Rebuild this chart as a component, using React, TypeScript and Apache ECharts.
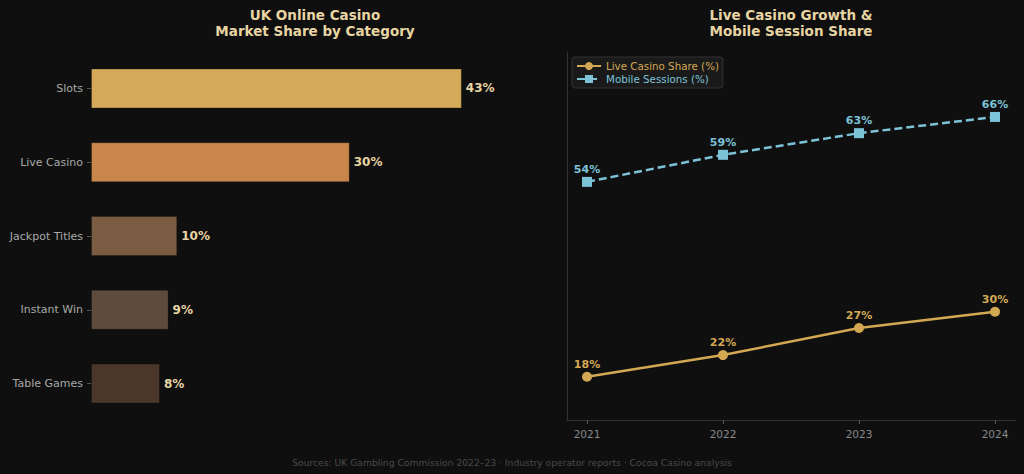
import React, { useEffect, useRef } from "react";
import * as echarts from "echarts";

const categories = ["Slots", "Live Casino", "Jackpot Titles", "Instant Win", "Table Games"];
const shares = [43, 30, 10, 9, 8];
const barColors = ["#d4aa58", "#c8864c", "#7a5c42", "#5e4b3b", "#4a3729"];
const years = [2021, 2022, 2023, 2024];
const liveCasino = [18, 22, 27, 30];
const mobileSessions = [54, 59, 63, 66];

const GOLD = "#d4a853";
const BLUE = "#7cc3d8";
const TITLE = "#e8d5a3";
const FONT = "DejaVu Sans";

export default function App() {
  const ref = useRef<HTMLDivElement>(null);
  useEffect(() => {
    if (!ref.current) return;
    const chart = echarts.init(ref.current, null, { renderer: "svg" });
    chart.setOption({
      animation: false,
      backgroundColor: "#0f0f0f",
      textStyle: { fontFamily: FONT },
      title: [
        {
          text: "UK Online Casino\nMarket Share by Category",
          left: 310,
          top: 2,
          textAlign: "center",
          textStyle: { color: TITLE, fontSize: 13.5, fontWeight: "bold", lineHeight: 16, fontFamily: FONT },
        },
        {
          text: "Live Casino Growth &\nMobile Session Share",
          left: 786,
          top: 2,
          textAlign: "center",
          textStyle: { color: TITLE, fontSize: 13.5, fontWeight: "bold", lineHeight: 16, fontFamily: FONT },
        },
        {
          text: "Sources: UK Gambling Commission 2022–23 · Industry operator reports · Cocoa Casino analysis",
          left: 507,
          top: 453,
          textAlign: "center",
          textStyle: { color: "#4a4a4a", fontSize: 9.2, fontWeight: "normal", fontFamily: FONT },
        },
      ],
      legend: {
        left: 572,
        top: 57,
        orient: "vertical",
        itemGap: 3,
        itemWidth: 24,
        itemHeight: 10,
        padding: [4, 4, 4, 4],
        backgroundColor: "#1a1a1a",
        borderColor: "#333333",
        borderWidth: 1,
        borderRadius: 3,
        textStyle: { fontSize: 10.3, fontFamily: FONT },
        data: [
          { name: "Live Casino Share (%)", textStyle: { color: GOLD } },
          { name: "Mobile Sessions (%)", textStyle: { color: BLUE } },
        ],
      },
      grid: [
        { left: 91, width: 445, top: 51.6, height: 368.8 },
        { left: 567, right: 9, top: 52, bottom: 54 },
      ],
      xAxis: [
        { gridIndex: 0, type: "value", min: 0, max: 51.6, show: false },
        {
          gridIndex: 1,
          type: "value",
          min: 2020.853,
          max: 2024.147,
          axisLine: { show: true, lineStyle: { color: "#333333", width: 1 } },
          axisTick: { show: true, length: 4, customValues: years, lineStyle: { color: "#555555" } },
          axisLabel: {
            customValues: years,
            color: "#8a8a8a",
            fontSize: 10.5,
            fontFamily: FONT,
            margin: 8,
            formatter: (v: number) => String(v),
          },
          splitLine: { show: false },
        },
      ],
      yAxis: [
        {
          gridIndex: 0,
          type: "category",
          data: categories,
          inverse: true,
          axisLine: { show: false },
          axisTick: { show: true, length: 4, alignWithLabel: true, lineStyle: { color: "#555555" } },
          axisLabel: { color: "#a8a8a8", fontSize: 11, fontFamily: FONT, margin: 8 },
        },
        {
          gridIndex: 1,
          type: "value",
          min: 10,
          max: 78,
          axisLine: { show: true, lineStyle: { color: "#333333", width: 1 } },
          axisTick: { show: false },
          axisLabel: { show: false },
          splitLine: { show: false },
        },
      ],
      series: [
        {
          type: "bar",
          xAxisIndex: 0,
          yAxisIndex: 0,
          barWidth: 40,
          data: shares.map((v, i) => ({
            value: v,
            itemStyle: { color: barColors[i], borderColor: "rgba(0,0,0,0.25)", borderWidth: 1 },
          })),
          label: {
            show: true,
            position: "right",
            distance: 4,
            formatter: "{c}%",
            color: TITLE,
            fontSize: 12,
            fontWeight: "bold",
            fontFamily: FONT,
          },
        },
        {
          name: "Live Casino Share (%)",
          type: "line",
          xAxisIndex: 1,
          yAxisIndex: 1,
          data: years.map((y, i) => [y, liveCasino[i]]),
          symbol: "circle",
          symbolSize: 10,
          lineStyle: { color: GOLD, width: 2.5 },
          itemStyle: { color: GOLD },
          label: {
            show: true,
            position: "top",
            distance: 2,
            formatter: (p: any) => p.value[1] + "%",
            color: GOLD,
            fontSize: 11,
            fontWeight: "bold",
            fontFamily: FONT,
          },
        },
        {
          name: "Mobile Sessions (%)",
          type: "line",
          xAxisIndex: 1,
          yAxisIndex: 1,
          data: years.map((y, i) => [y, mobileSessions[i]]),
          symbol: "rect",
          symbolSize: 10,
          lineStyle: { color: BLUE, width: 2.5, type: [8, 4] },
          itemStyle: { color: BLUE },
          label: {
            show: true,
            position: "top",
            distance: 2,
            formatter: (p: any) => p.value[1] + "%",
            color: BLUE,
            fontSize: 11,
            fontWeight: "bold",
            fontFamily: FONT,
          },
        },
      ],
    });
    return () => chart.dispose();
  }, []);
  return <div ref={ref} style={{ position: "fixed", left: 0, top: 0, width: 1024, height: 474 }} />;
}
